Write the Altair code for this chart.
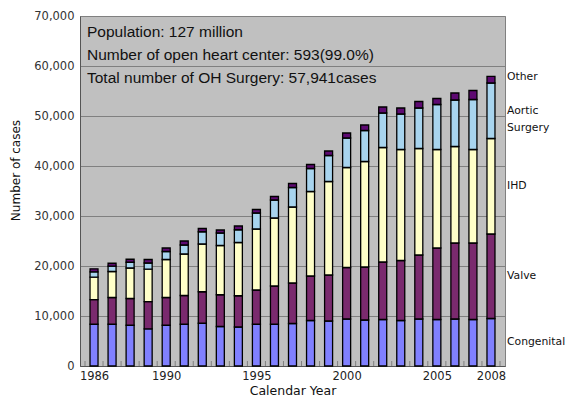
import altair as alt
import pandas as pd

years = list(range(1986, 2009))
categories = ["Congenital", "Valve", "IHD", "Aortic Surgery", "Other"]
congenital = [8350, 8350, 8150, 7430, 8150, 8350, 8550, 7900, 7800, 8350, 8350, 8500,
              9100, 9000, 9400, 9200, 9300, 9100, 9400, 9300, 9400, 9300, 9500]
valve = [4910, 5350, 5350, 5430, 5550, 5750, 6300, 6350, 6250, 6850, 7650, 8100,
         8900, 9200, 10300, 10600, 11500, 12000, 12800, 14300, 15200, 15300, 16900]
ihd = [4510, 5200, 6100, 6500, 7600, 8300, 9550, 9850, 10650, 12200, 13600, 15200,
       16900, 18700, 20000, 21100, 22900, 22200, 21300, 19700, 19300, 18700, 19100]
aortic = [1060, 1060, 1150, 1240, 1600, 1800, 2450, 2500, 2550, 3200, 3600, 3900,
          4600, 5200, 5900, 6200, 6900, 7100, 8100, 9000, 9300, 10000, 11100]
other = [600, 590, 600, 700, 700, 800, 650, 600, 750, 700, 700, 800,
         800, 900, 1000, 1100, 1200, 1200, 1300, 1200, 1400, 1800, 1341]
colors = ["#8080FF", "#7A2A6E", "#FFFFC8", "#A8D4EE", "#5E0A72"]
x_labels = [1986, 1990, 1995, 2000, 2005, 2008]
info_lines = ["Population: 127 million",
              "Number of open heart center: 593(99.0%)",
              "Total number of OH Surgery: 57,941cases"]

series = [congenital, valve, ihd, aortic, other]
rows = []
for ci, (cat, vals) in enumerate(zip(categories, series)):
    for y, v in zip(years, vals):
        rows.append({"year": y, "category": cat, "order": ci, "cases": v})
df = pd.DataFrame(rows)

# labels at mid of last year's segments
lab_rows = []
cum = 0
for cat, vals in zip(categories, series):
    v = vals[-1]
    lab_rows.append({"label": cat.replace(" ", "\n"), "mid": cum + v / 2})
    cum += v
lab_df = pd.DataFrame(lab_rows)
lab_df.loc[lab_df["label"] == "Other", "mid"] += 600

bounds = pd.DataFrame({"b": [y - 0.5 for y in years] + [years[-1] + 0.5]})

W, H = 425, 350
xscale = alt.Scale(domain=[years[0] - 0.5, years[-1] + 0.5], nice=False, zero=False)
yscale = alt.Scale(domain=[0, 70000], nice=False)

bars = alt.Chart(df).mark_bar(size=8, stroke="black", strokeWidth=1.3).encode(
    x=alt.X("year:Q", scale=xscale,
            axis=alt.Axis(values=x_labels, format="d", title="Calendar Year",
                          grid=False, ticks=False, labelPadding=4,
                          labelFont="DejaVu Sans", labelFontSize=11.5, labelColor="#222",
                          titleFont="DejaVu Sans", titleFontSize=12.5, titleFontWeight="normal",
                          titleColor="#111", titlePadding=3,
                          domainColor="#555", labelFlush=False)),
    y=alt.Y("cases:Q", stack="zero", scale=yscale,
            axis=alt.Axis(values=list(range(0, 70001, 10000)), format=",d",
                          title="Number of cases", ticks=False, labelPadding=6,
                          gridColor="#808080", gridWidth=1,
                          labelFont="DejaVu Sans", labelFontSize=11.5, labelColor="#333",
                          titleFont="DejaVu Sans", titleFontSize=12, titleFontWeight="normal",
                          titleColor="#111",
                          titleX=-58, titleY=154, domainColor="#555")),
    color=alt.Color("category:N", scale=alt.Scale(domain=categories, range=colors), legend=None),
    order=alt.Order("order:Q"),
)

ticks = alt.Chart(bounds).mark_rule(color="#808080", strokeWidth=1).encode(
    x=alt.X("b:Q", scale=xscale),
    y=alt.value(H),
    y2=alt.value(H - 5),
)

labels = alt.Chart(lab_df).mark_text(align="left", baseline="middle", font="DejaVu Sans",
                                     fontSize=10.8, color="#111", lineBreak="\n",
                                     lineHeight=17, dx=2).encode(
    x=alt.value(W),
    y=alt.Y("mid:Q", scale=yscale),
    text="label:N",
)

info_layers = []
for line, ypix in zip(info_lines, [21, 44, 67]):
    info_layers.append(
        alt.Chart(pd.DataFrame({"t": [line]})).mark_text(
            align="left", baseline="alphabetic", font="Liberation Sans",
            fontSize=15.5, color="#111").encode(
            x=alt.value(7), y=alt.value(ypix), text="t:N")
    )

chart = alt.layer(bars, ticks, labels, *info_layers).properties(
    width=W, height=H, autosize="none",
    padding={"left": 72, "top": 8, "right": 61, "bottom": 32},
).configure_view(fill="#C0C0C0", stroke="#808080", strokeWidth=1)

chart.save("out.html", embed_options={"renderer": "svg", "actions": False})
